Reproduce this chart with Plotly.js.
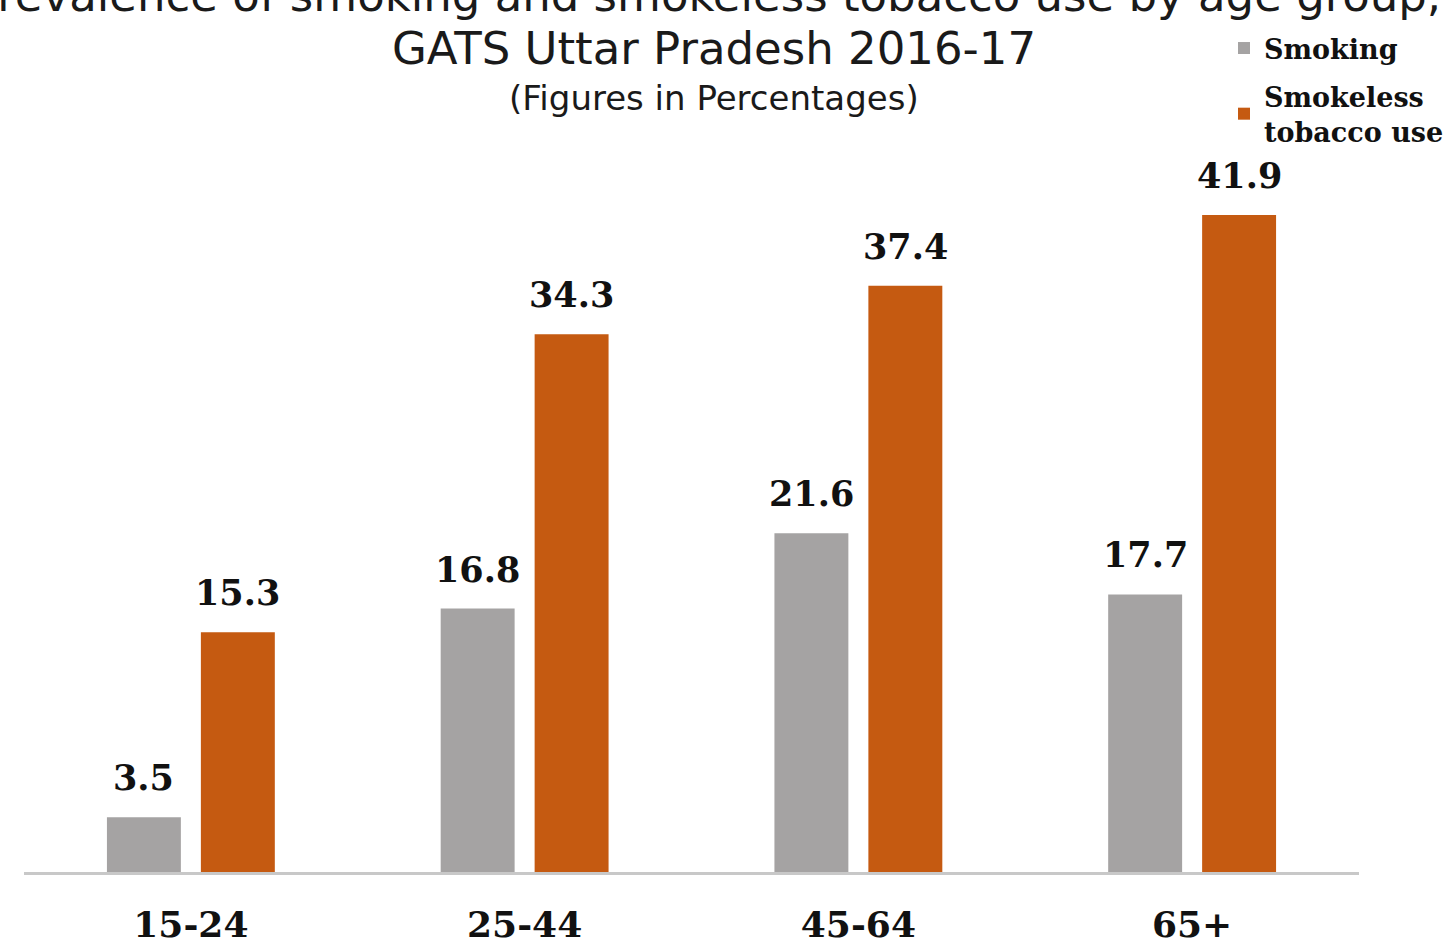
<!DOCTYPE html>
<html>
<head>
<meta charset="utf-8">
<script src="https://cdn.plot.ly/plotly-3.0.1.min.js"></script>
<style>html,body{margin:0;padding:0;background:#fff;}#chart{width:1449px;height:946px;}</style>
</head>
<body>
<div id="chart"></div>
<script>
const categories = ["15-24", "25-44", "45-64", "65+"];
const smoking = [3.5, 16.8, 21.6, 17.7];
const smokeless = [15.3, 34.3, 37.4, 41.9];
const seriesNames = ["Smoking", "Smokeless<br>tobacco use"];
const titleLines = [
  "Prevalence of smoking and smokeless tobacco use by age group,",
  "GATS Uttar Pradesh 2016-17",
  "(Figures in Percentages)"
];

const serif = "DejaVu Serif, Liberation Serif, serif";
const sans = "DejaVu Sans, Verdana, sans-serif";
const colors = ["#a5a3a3", "#c55a11"];
const slot = 0.1407;

const traces = [
  {type: "bar", name: seriesNames[0], legendgroup: "g1", x: categories, y: smoking,
   marker: {color: colors[0]}, hoverinfo: "x+y"},
  {type: "bar", name: seriesNames[1], legendgroup: "g2", x: categories, y: smokeless,
   marker: {color: colors[1]}, hoverinfo: "x+y"}
];

const annotations = [];
[smoking, smokeless].forEach((vals, s) => {
  vals.forEach((v, i) => {
    annotations.push({
      x: i + (s === 0 ? -slot : slot), y: v, xref: "x", yref: "y",
      text: v.toFixed(1), showarrow: false, yanchor: "bottom", yshift: 17,
      font: {family: serif, size: 35, color: "#111", weight: "bold"}
    });
  });
});
annotations.push(
  {xref: "paper", yref: "paper", x: 0.511, y: 1.0046, text: titleLines[0], showarrow: false,
   xanchor: "center", yanchor: "middle", font: {family: sans, size: 45, color: "#1a1a1a"}},
  {xref: "paper", yref: "paper", x: 0.5165, y: 0.9446, text: titleLines[1], showarrow: false,
   xanchor: "center", yanchor: "middle", font: {family: sans, size: 45, color: "#1a1a1a"}},
  {xref: "paper", yref: "paper", x: 0.5165, y: 0.888, text: titleLines[2], showarrow: false,
   xanchor: "center", yanchor: "middle", font: {family: sans, size: 34, color: "#1a1a1a"}}
);

const layout = {
  width: 1449, height: 946,
  margin: {l: 24, r: 89, t: 0, b: 74},
  paper_bgcolor: "#fff", plot_bgcolor: "#fff",
  barmode: "group", bargap: 0.437, bargroupgap: 0.213,
  xaxis: {
    type: "category", range: [-0.5, 3.5],
    showline: true, linecolor: "#c8c8c8", linewidth: 3,
    ticks: "", showgrid: false, zeroline: false,
    tickfont: {family: serif, size: 36, color: "#111", weight: "bold"},
    ticklabelstandoff: 19
  },
  yaxis: {range: [0, 49.24], domain: [0, 0.8853], visible: false, showgrid: false, zeroline: false},
  showlegend: true,
  legend: {
    x: 0.899, y: 0.9725, xanchor: "left", yanchor: "top",
    traceorder: "grouped", tracegroupgap: 10,
    font: {family: serif, size: 27, color: "#111", weight: "bold"},
    bgcolor: "rgba(0,0,0,0)"
  },
  annotations: annotations
};

Plotly.newPlot("chart", traces, layout, {displayModeBar: false, responsive: false});
</script>
</body>
</html>
